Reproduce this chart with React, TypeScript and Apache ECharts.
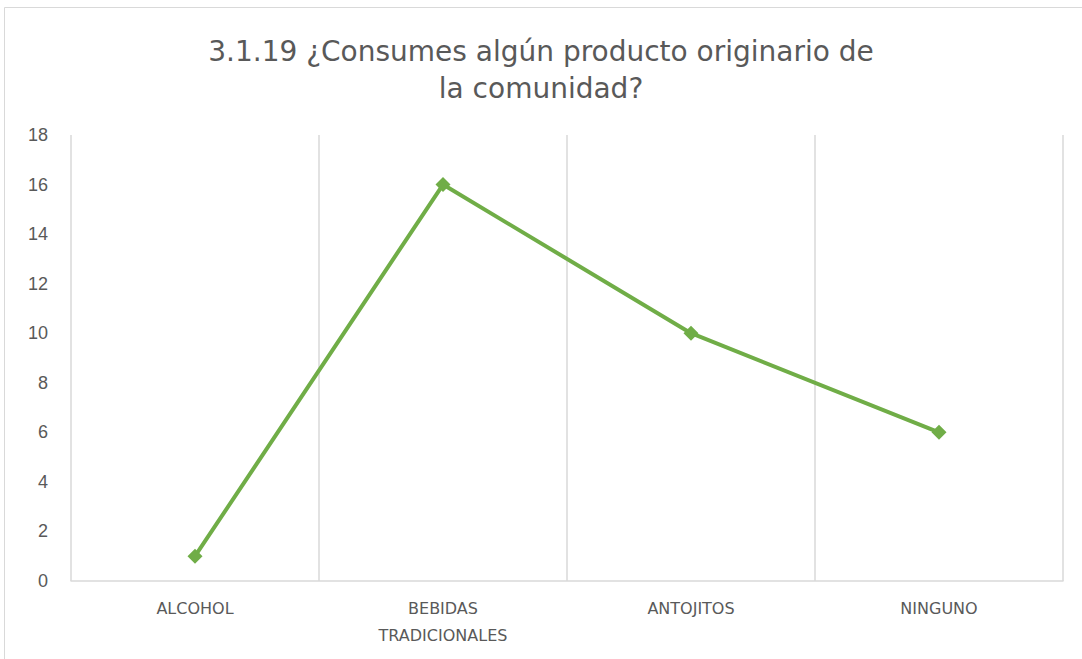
import React, { useEffect, useRef } from "react";
import * as echarts from "echarts";

const categories = ["ALCOHOL", "BEBIDAS\nTRADICIONALES", "ANTOJITOS", "NINGUNO"];
const values = [1, 16, 10, 6];
const titleText = "3.1.19 ¿Consumes algún producto originario de\nla comunidad?";

export default function App() {
  const ref = useRef<HTMLDivElement>(null);
  useEffect(() => {
    if (!ref.current) return;
    const chart = echarts.init(ref.current, undefined, { renderer: "svg" });
    chart.setOption({
      animation: false,
      backgroundColor: "#ffffff",
      title: {
        text: titleText,
        left: "center",
        top: 28,
        textStyle: {
          fontFamily: "DejaVu Sans",
          fontWeight: "normal",
          fontSize: 28,
          color: "#595959",
          lineHeight: 37,
        },
      },
      graphic: [
        {
          type: "rect",
          shape: { x: 4.5, y: 7.5, width: 1100, height: 700 },
          style: { fill: "none", stroke: "#d9d9d9", lineWidth: 1 },
          silent: true,
        },
      ],
      grid: { left: 71, right: 19, top: 135, bottom: 78 },
      xAxis: {
        type: "category",
        data: categories,
        boundaryGap: true,
        axisLine: { show: true, lineStyle: { color: "#d9d9d9", width: 1.5 } },
        axisTick: { show: false },
        splitLine: { show: true, lineStyle: { color: "#d9d9d9", width: 1.5 } },
        axisLabel: {
          color: "#595959",
          fontSize: 16,
          fontFamily: "DejaVu Sans",
          margin: 14,
          lineHeight: 27,
          interval: 0,
        },
      },
      yAxis: {
        type: "value",
        min: 0,
        max: 18,
        interval: 2,
        axisLine: { show: false },
        axisTick: { show: false },
        splitLine: { show: false },
        axisLabel: {
          color: "#595959",
          fontSize: 18,
          fontFamily: "Liberation Sans",
          margin: 23,
        },
      },
      series: [
        {
          type: "line",
          data: values,
          symbol: "diamond",
          symbolSize: 15,
          lineStyle: { color: "#70AD47", width: 4 },
          itemStyle: { color: "#70AD47" },
        },
      ],
    });
    return () => chart.dispose();
  }, []);
  return (
    <div
      ref={ref}
      style={{ position: "fixed", left: 0, top: 0, width: 1082, height: 659 }}
    />
  );
}
